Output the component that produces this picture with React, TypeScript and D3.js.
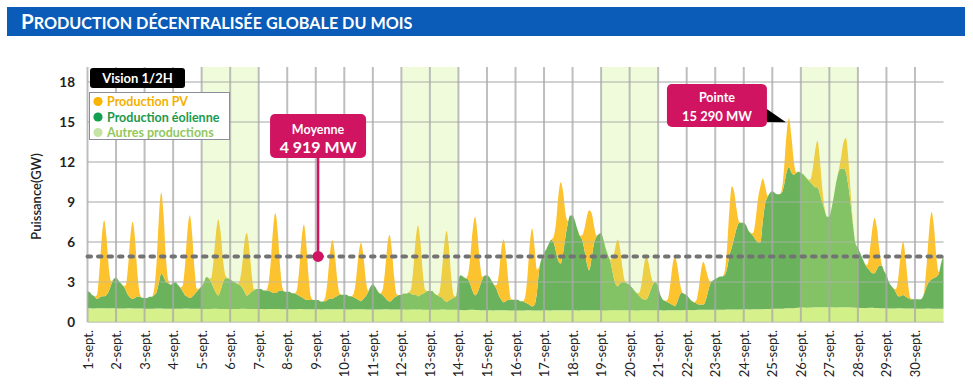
import React from 'react';
import * as d3 from 'd3';

// september, one row per day, values every 2 hours (0h, 2h, ... 22h), in GW
const dayLabels = ['1-sept.', '2-sept.', '3-sept.', '4-sept.', '5-sept.', '6-sept.', '7-sept.', '8-sept.', '9-sept.', '10-sept.',
  '11-sept.', '12-sept.', '13-sept.', '14-sept.', '15-sept.', '16-sept.', '17-sept.', '18-sept.', '19-sept.', '20-sept.',
  '21-sept.', '22-sept.', '23-sept.', '24-sept.', '25-sept.', '26-sept.', '27-sept.', '28-sept.', '29-sept.', '30-sept.'];
const yTicks = [0, 3, 6, 9, 12, 15, 18];
const weekends = [[5, 7], [12, 14], [19, 21], [26, 28]];
const moyenneMW = 4919;
const moyenneDay = 8.08;
const pointeMW = 15290;

const othersByDay = [
  [1.03, 1.03, 1.02, 1.02, 1.03, 1.04, 1.04, 1.03, 1.03, 1.02, 1.03, 1.03],
  [1.02, 1.02, 1.01, 1.01, 1.02, 1.03, 1.03, 1.02, 1.02, 1.02, 1.02, 1.01],
  [1.0, 1.0, 1.0, 0.99, 1.0, 1.01, 1.02, 1.01, 1.0, 1.0, 1.0, 1.0],
  [1.0, 0.99, 0.99, 0.99, 1.0, 1.01, 1.01, 1.0, 1.0, 0.99, 0.99, 0.99],
  [0.98, 0.98, 0.97, 0.97, 0.98, 0.99, 0.99, 0.98, 0.98, 0.98, 0.98, 0.98],
  [0.98, 0.97, 0.97, 0.97, 0.98, 0.99, 0.99, 0.98, 0.98, 0.97, 0.97, 0.97],
  [0.97, 0.97, 0.96, 0.96, 0.97, 0.98, 0.98, 0.97, 0.97, 0.96, 0.96, 0.96],
  [0.96, 0.96, 0.95, 0.95, 0.96, 0.97, 0.97, 0.96, 0.96, 0.95, 0.95, 0.95],
  [0.95, 0.95, 0.94, 0.94, 0.95, 0.96, 0.96, 0.95, 0.95, 0.95, 0.95, 0.95],
  [0.95, 0.94, 0.94, 0.94, 0.95, 0.96, 0.96, 0.95, 0.95, 0.94, 0.94, 0.94],
  [0.94, 0.94, 0.93, 0.93, 0.94, 0.95, 0.95, 0.94, 0.94, 0.93, 0.93, 0.93],
  [0.93, 0.93, 0.92, 0.92, 0.93, 0.94, 0.94, 0.93, 0.93, 0.92, 0.92, 0.92],
  [0.92, 0.92, 0.91, 0.91, 0.92, 0.93, 0.93, 0.92, 0.92, 0.91, 0.91, 0.91],
  [0.9, 0.9, 0.89, 0.89, 0.9, 0.91, 0.91, 0.9, 0.9, 0.89, 0.89, 0.89],
  [0.88, 0.88, 0.87, 0.87, 0.88, 0.89, 0.89, 0.88, 0.88, 0.87, 0.87, 0.87],
  [0.87, 0.87, 0.86, 0.86, 0.87, 0.88, 0.88, 0.87, 0.87, 0.87, 0.87, 0.87],
  [0.88, 0.88, 0.87, 0.87, 0.88, 0.89, 0.89, 0.88, 0.88, 0.88, 0.88, 0.88],
  [0.88, 0.88, 0.87, 0.87, 0.88, 0.89, 0.89, 0.88, 0.88, 0.88, 0.88, 0.88],
  [0.88, 0.87, 0.87, 0.87, 0.88, 0.89, 0.89, 0.88, 0.88, 0.88, 0.88, 0.88],
  [0.88, 0.88, 0.87, 0.86, 0.87, 0.88, 0.89, 0.88, 0.88, 0.87, 0.88, 0.88],
  [0.88, 0.88, 0.87, 0.87, 0.88, 0.89, 0.89, 0.89, 0.89, 0.89, 0.89, 0.9],
  [0.9, 0.9, 0.89, 0.89, 0.9, 0.91, 0.91, 0.91, 0.91, 0.91, 0.91, 0.91],
  [0.92, 0.92, 0.91, 0.91, 0.92, 0.93, 0.93, 0.93, 0.93, 0.93, 0.93, 0.94],
  [0.95, 0.95, 0.94, 0.94, 0.95, 0.96, 0.96, 0.96, 0.96, 0.97, 0.97, 0.98],
  [1.0, 1.0, 0.99, 0.99, 1.0, 1.02, 1.03, 1.03, 1.03, 1.04, 1.05, 1.06],
  [1.08, 1.08, 1.07, 1.07, 1.08, 1.09, 1.1, 1.1, 1.1, 1.1, 1.1, 1.1],
  [1.1, 1.1, 1.09, 1.09, 1.1, 1.11, 1.11, 1.1, 1.1, 1.09, 1.08, 1.07],
  [1.06, 1.05, 1.05, 1.04, 1.05, 1.06, 1.06, 1.05, 1.05, 1.04, 1.04, 1.03],
  [1.03, 1.02, 1.02, 1.01, 1.02, 1.03, 1.03, 1.02, 1.02, 1.01, 1.01, 1.01],
  [1.0, 1.0, 0.99, 0.99, 1.0, 1.01, 1.01, 1.0, 1.0, 1.0, 1.0, 1.0],
];

const windByDay = [
  [1.3, 1.2, 1.0, 0.9, 0.7, 0.8, 0.9, 0.9, 1.0, 1.3, 1.8, 2.2],
  [2.3, 2.1, 1.9, 1.7, 1.4, 1.0, 0.8, 0.7, 0.8, 0.9, 0.9, 0.8],
  [0.8, 0.8, 0.9, 0.9, 1.0, 1.2, 1.9, 2.6, 2.4, 2.0, 1.9, 1.8],
  [1.9, 2.0, 1.8, 1.6, 1.3, 1.0, 0.9, 0.8, 0.9, 1.1, 1.3, 1.5],
  [1.7, 2.0, 2.4, 2.3, 2.0, 1.6, 1.2, 1.0, 1.4, 2.0, 2.3, 2.3],
  [2.2, 2.1, 2.0, 1.9, 1.8, 1.6, 1.3, 1.0, 1.1, 1.3, 1.4, 1.5],
  [1.5, 1.5, 1.4, 1.4, 1.4, 1.3, 1.2, 1.2, 1.3, 1.4, 1.4, 1.3],
  [1.3, 1.3, 1.2, 1.2, 1.1, 1.0, 0.9, 0.8, 0.7, 0.7, 0.7, 0.7],
  [0.7, 0.7, 0.6, 0.6, 0.6, 0.7, 0.8, 0.8, 0.9, 1.0, 1.1, 1.1],
  [1.1, 1.1, 1.0, 1.0, 0.9, 0.8, 0.7, 0.6, 0.8, 1.0, 1.3, 1.7],
  [1.9, 1.7, 1.4, 1.2, 1.1, 0.9, 0.7, 0.6, 0.7, 0.9, 1.0, 1.1],
  [1.1, 1.2, 1.2, 1.3, 1.2, 1.1, 1.1, 1.0, 1.1, 1.2, 1.3, 1.4],
  [1.4, 1.4, 1.2, 1.1, 1.0, 0.9, 0.7, 0.6, 0.7, 0.8, 0.9, 1.0],
  [2.3, 2.6, 2.5, 2.4, 2.3, 1.9, 1.4, 1.1, 1.3, 1.8, 2.3, 2.6],
  [2.6, 2.5, 2.2, 1.9, 1.6, 1.1, 0.8, 0.6, 0.7, 0.8, 0.8, 0.8],
  [0.8, 0.8, 0.7, 0.7, 0.6, 0.5, 0.4, 0.3, 0.4, 1.3, 3.1, 3.9],
  [4.3, 4.6, 5.0, 5.3, 5.1, 4.4, 3.7, 3.5, 4.3, 5.5, 6.5, 7.1],
  [7.1, 6.7, 6.1, 5.6, 5.3, 4.5, 3.5, 3.0, 3.9, 5.0, 5.5, 5.7],
  [5.8, 5.3, 4.6, 4.1, 3.6, 2.7, 2.0, 1.8, 2.0, 2.1, 2.1, 2.0],
  [1.9, 1.7, 1.5, 1.3, 1.1, 0.9, 0.8, 0.8, 1.1, 1.6, 2.0, 2.1],
  [1.7, 1.1, 0.8, 0.7, 0.6, 0.5, 0.4, 0.3, 0.6, 1.1, 1.3, 1.2],
  [1.1, 0.9, 0.7, 0.6, 0.5, 0.4, 0.4, 0.4, 0.7, 1.4, 2.0, 2.2],
  [2.3, 2.4, 2.5, 2.5, 2.6, 3.1, 4.1, 4.7, 5.4, 6.1, 6.5, 6.5],
  [6.5, 6.3, 5.9, 5.7, 5.5, 5.2, 5.0, 5.0, 6.6, 7.9, 8.4, 8.7],
  [8.8, 8.7, 8.6, 8.6, 8.7, 9.3, 10.2, 10.6, 10.2, 10.0, 10.1, 10.2],
  [10.1, 10.0, 9.8, 9.6, 9.4, 9.2, 9.0, 9.0, 8.5, 7.9, 7.3, 6.8],
  [6.8, 7.5, 8.5, 9.5, 10.2, 10.4, 10.4, 10.1, 9.1, 7.7, 6.1, 4.8],
  [4.5, 4.1, 3.7, 3.3, 3.0, 2.8, 2.6, 2.6, 2.9, 3.2, 3.2, 2.8],
  [2.5, 2.0, 1.7, 1.5, 1.2, 0.9, 0.9, 1.0, 0.9, 0.8, 0.7, 0.7],
  [0.7, 0.7, 0.7, 0.8, 1.2, 1.7, 2.0, 2.2, 2.3, 2.4, 2.6, 3.4],
];

const pvByDay = [
  [0, 0, 0, 0, 0.3, 2.0, 4.4, 5.7, 4.3, 1.7, 0.2, 0],
  [0, 0, 0, 0, 0.3, 2.0, 4.5, 5.8, 4.4, 1.7, 0.2, 0],
  [0, 0, 0, 0, 0.4, 2.1, 4.8, 6.1, 4.6, 1.8, 0.2, 0],
  [0, 0, 0, 0, 0.4, 2.2, 4.8, 6.2, 4.7, 1.9, 0.2, 0],
  [0, 0, 0, 0, 0.3, 2.0, 4.4, 5.7, 4.3, 1.7, 0.2, 0],
  [0, 0, 0, 0, 0.3, 1.6, 3.7, 4.7, 3.5, 1.4, 0.1, 0],
  [0, 0, 0, 0, 0.4, 2.1, 4.7, 6.0, 4.5, 1.8, 0.2, 0],
  [0, 0, 0, 0, 0.3, 1.9, 4.3, 5.55, 4.2, 1.7, 0.2, 0],
  [0, 0, 0, 0, 0.3, 1.5, 3.4, 4.4, 3.3, 1.3, 0.1, 0],
  [0, 0, 0, 0, 0.3, 1.5, 3.4, 4.4, 3.3, 1.3, 0.1, 0],
  [0, 0, 0, 0, 0.3, 1.75, 3.9, 5.0, 3.75, 1.5, 0.15, 0],
  [0, 0, 0, 0, 0.3, 1.9, 4.1, 5.3, 4.0, 1.6, 0.2, 0],
  [0, 0, 0, 0, 0.3, 1.9, 4.1, 5.3, 4.0, 1.6, 0.2, 0],
  [0, 0, 0, 0, 0.35, 2.1, 4.6, 5.9, 4.4, 1.8, 0.2, 0],
  [0, 0, 0, 0, 0.3, 1.6, 3.7, 4.7, 3.5, 1.4, 0.1, 0],
  [0, 0, 0, 0, 0.35, 2.0, 4.6, 5.85, 4.4, 1.75, 0.2, 0],
  [0, 0, 0, 0, 0.4, 2.1, 4.8, 6.1, 4.6, 1.8, 0.2, 0],
  [0, 0, 0, 0, 0.3, 1.6, 3.5, 4.5, 3.4, 1.35, 0.1, 0],
  [0, 0, 0, 0, 0.2, 1.2, 2.7, 3.5, 2.6, 1.05, 0.1, 0],
  [0, 0, 0, 0, 0.2, 1.1, 2.5, 3.25, 2.4, 1.0, 0.1, 0],
  [0, 0, 0, 0, 0.2, 1.3, 2.9, 3.75, 2.8, 1.1, 0.1, 0],
  [0, 0, 0, 0, 0.2, 1.1, 2.5, 3.2, 2.4, 1.0, 0.1, 0],
  [0, 0, 0, 0, 0.3, 1.6, 3.5, 4.55, 3.4, 1.4, 0.1, 0],
  [0, 0, 0, 0, 0.25, 1.5, 3.3, 4.2, 3.2, 1.3, 0.1, 0],
  [0, 0, 0, 0, 0.2, 1.3, 2.85, 3.66, 2.75, 1.1, 0.1, 0],
  [0, 0, 0, 0, 0.2, 1.2, 2.7, 3.5, 2.6, 1.05, 0.1, 0],
  [0, 0, 0, 0, 0.15, 0.9, 2.0, 2.6, 1.95, 0.8, 0.1, 0],
  [0, 0, 0, 0, 0.25, 1.45, 3.2, 4.15, 3.1, 1.25, 0.1, 0],
  [0, 0, 0, 0, 0.25, 1.4, 3.1, 4.0, 3.0, 1.2, 0.1, 0],
  [0, 0, 0, 0, 0.3, 1.8, 3.9, 5.05, 3.8, 1.5, 0.15, 0],
];
// last point closing the month (30-sept 24h)
const lastOthers = 1.0;
const lastWind = 4.0;
const lastPv = 0;

const W = 973;
const H = 387;
const margin = { left: 87.5, right: 29.5, top: 67, bottom: 65 };

const colors = { others: '#d6f08c', wind: '#6ab35c', pv: '#fcc32e' };
const font = 'Lato, "Open Sans", sans-serif';

const fmt = (v: number) => String(v).replace(/\B(?=(\d{3})+(?!\d))/g, ' ');

export default function App() {
  const others = othersByDay.flat().concat([lastOthers]);
  const wind = windByDay.flat().concat([lastWind]);
  const pv = pvByDay.flat().concat([lastPv]);
  const rows = others.map((o, i) => ({ t: i / 12, others: o, wind: wind[i], pv: pv[i] }));

  const x = d3.scaleLinear().domain([0, 30]).range([margin.left, W - margin.right]);
  const y = d3.scaleLinear().domain([0, 19.125]).range([H - margin.bottom, margin.top]);
  const series = d3.stack<any>().keys(['others', 'wind', 'pv'])(rows);
  const area = d3.area<any>()
    .x((d: any) => x(d.data.t))
    .y0((d: any) => y(d[0]))
    .y1((d: any) => y(d[1]))
    .curve(d3.curveMonotoneX);

  const totals = rows.map(r => r.others + r.wind + r.pv);
  const iMax = d3.maxIndex(totals);
  const peakX = x(rows[iMax].t);
  const peakY = y(pointeMW / 1000);

  const moyY = y(moyenneMW / 1000);
  const moyX = x(moyenneDay);
  const y0 = y(0);
  const yTop = margin.top;

  return (
    <div style={{ position: 'absolute', left: 0, top: 0 }}>
      <svg width={W} height={H} style={{ display: 'block', background: '#fff' }}>
        {/* title bar */}
        <rect x={7} y={7} width={958} height={29} fill="#0a5cb8" />
        <text x={21} y={29} fill="#fff" fontFamily={font} fontWeight={700}>
          <tspan fontSize={20.5}>P</tspan>
          <tspan fontSize={16.2}>RODUCTION DÉCENTRALISÉE GLOBALE DU MOIS</tspan>
        </text>

        {/* background grid */}
        {yTicks.map(t => (
          <line key={'h' + t} x1={margin.left} x2={W - margin.right} y1={y(t)} y2={y(t)} stroke="#d4d4d4" strokeWidth={1.5} />
        ))}

        {/* stacked areas */}
        {series.map((s: any) => (
          <path key={s.key} d={area(s) as string} fill={(colors as any)[s.key]} />
        ))}

        {/* weekends */}
        {weekends.map(([a, b]) => (
          <rect key={'w' + a} x={x(a - 1)} y={yTop} width={x(b - 1) - x(a - 1)} height={y0 - yTop}
            fill="rgb(200,240,125)" fillOpacity={0.27} />
        ))}

        {/* grid over areas */}
        {yTicks.map(t => (
          <line key={'ho' + t} x1={margin.left} x2={W - margin.right} y1={y(t)} y2={y(t)} stroke="#b8b8b8" strokeOpacity={0.45} strokeWidth={1.5} />
        ))}
        {dayLabels.map((lab, i) => (
          <line key={'v' + i} x1={x(i)} x2={x(i)} y1={yTop} y2={y0} stroke="#a8a8a8" strokeOpacity={0.75} strokeWidth={2} />
        ))}

        {/* mean */}
        <line x1={margin.left} x2={W - margin.right} y1={moyY} y2={moyY} stroke="#737373" strokeWidth={4}
          strokeDasharray="3.5,7" strokeLinecap="round" />

        {/* y axis */}
        {yTicks.map(t => (
          <text key={'yt' + t} x={75} y={y(t) + 5} textAnchor="end" fontFamily={font} fontWeight={700} fontSize={13.5} fill="#222">{t}</text>
        ))}
        <text transform={`translate(41,${(yTop + y0) / 2 + 2}) rotate(-90)`} textAnchor="middle" fontFamily={font} fontWeight={600} fontSize={13} fill="#222">Puissance(GW)</text>

        {/* x axis */}
        {dayLabels.map((lab, i) => (
          <text key={'xl' + i} transform={`translate(${x(i) + 5},330) rotate(-90)`} textAnchor="end" fontFamily={font} fontSize={13} fill="#222">{lab}</text>
        ))}

        {/* moyenne annotation */}
        <line x1={moyX} x2={moyX} y1={156} y2={moyY} stroke="#d01462" strokeWidth={2.5} />
        <circle cx={moyX} cy={moyY} r={5.5} fill="#d01462" />
        <rect x={moyX - 48} y={114} width={96} height={44} rx={5} fill="#d01462" />
        <text x={moyX} y={134} textAnchor="middle" fontFamily={font} fontWeight={700} fontSize={12.5} fill="#fff">Moyenne</text>
        <text x={moyX} y={153} textAnchor="middle" fontFamily={font} fontWeight={700} fontSize={16} fill="#fff">{fmt(moyenneMW)} MW</text>

        {/* pointe annotation */}
        <polygon points={`${peakX - 25},107 ${peakX - 22},122 ${peakX - 3},${peakY + 4}`} fill="#000" />
        <rect x={peakX - 122} y={84} width={100} height={43} rx={5} fill="#d01462" />
        <text x={peakX - 72} y={102} textAnchor="middle" fontFamily={font} fontWeight={700} fontSize={12.5} fill="#fff">Pointe</text>
        <text x={peakX - 72} y={121} textAnchor="middle" fontFamily={font} fontWeight={700} fontSize={13} fill="#fff">{fmt(pointeMW)} MW</text>

        {/* legend */}
        <rect x={90} y={68} width={95} height={20} rx={3} fill="#000" />
        <text x={137.5} y={83} textAnchor="middle" fontFamily={font} fontWeight={700} fontSize={13} fill="#fff">Vision 1/2H</text>
        <rect x={89.5} y={92.5} width={140} height={47} fill="#fff" stroke="#8a8d9c" strokeWidth={1} />
        {[
          { label: 'Production PV', dot: '#f7b500', text: '#f4b000' },
          { label: 'Production éolienne', dot: '#13a04e', text: '#1c9a4c' },
          { label: 'Autres productions', dot: '#c4e4a6', text: '#92c85e' },
        ].map((it, i) => (
          <g key={it.label}>
            <circle cx={98} cy={101.5 + i * 15.5} r={4.6} fill={it.dot} />
            <text x={107} y={106 + i * 15.5} fontFamily={font} fontWeight={700} fontSize={12.5} fill={it.text}>{it.label}</text>
          </g>
        ))}
      </svg>
    </div>
  );
}
